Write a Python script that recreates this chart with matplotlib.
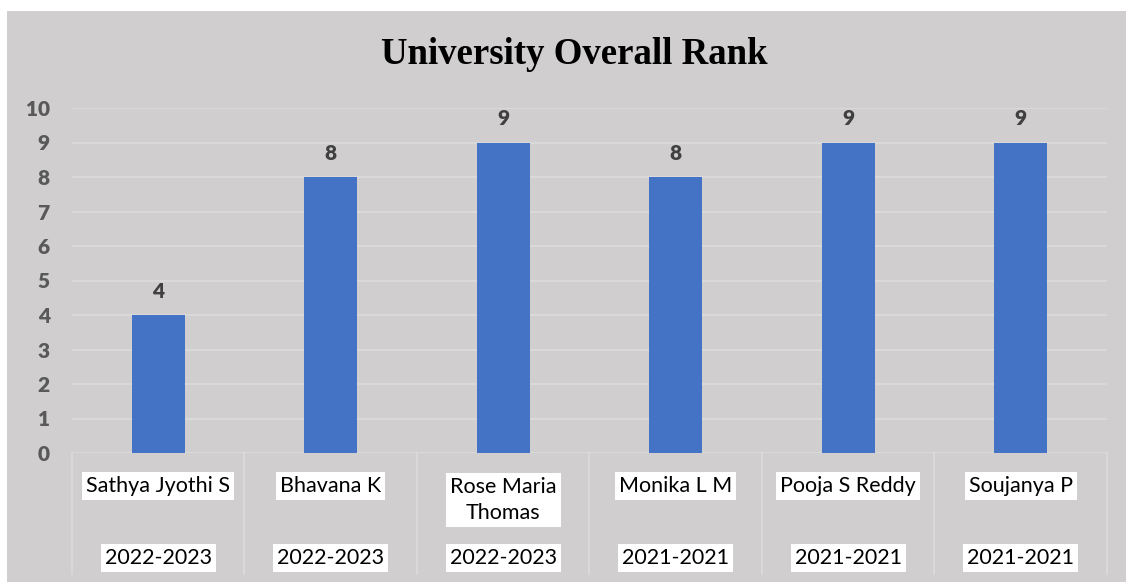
import numpy as np
import matplotlib
matplotlib.use("Agg")
import matplotlib.pyplot as plt
from matplotlib.patches import Rectangle

names=["Sathya Jyothi S","Bhavana K","Rose Maria\nThomas","Monika L M","Pooja S Reddy","Soujanya P"]
years=["2022-2023","2022-2023","2022-2023","2021-2021","2021-2021","2021-2021"]
ranks=[4,8,9,8,9,9]

W,H=1126,582
fig=plt.figure(figsize=(W/100,H/100),dpi=100)
fig.patch.set_facecolor("white")
fig.patches.append(Rectangle((7/W,0),1-7/W,1-11/H,transform=fig.transFigure,
                             facecolor="#D0CECE",edgecolor="none",zorder=-5))

ax=fig.add_axes([72/W,(H-453)/H,(1107-72)/W,345/H])
ax.set_facecolor("none")
x=np.arange(len(ranks))
bars=ax.bar(x,ranks,width=0.31,color="#4472C4",zorder=3)
ax.set_xlim(-0.5,len(ranks)-0.5)
ax.set_ylim(0,10)
ax.set_yticks(range(0,11))
for s in ax.spines.values():
    s.set_visible(False)
ax.grid(axis="y",color="#DCDCDC",linewidth=1.2,zorder=1)
ax.set_axisbelow(True)
ax.set_xticks([])
ax.tick_params(axis="y",length=0,pad=16)
for lab in ax.get_yticklabels():
    lab.set_fontfamily("Lato")
    lab.set_fontweight("heavy")
    lab.set_fontsize(15)
    lab.set_color("#595959")

for b,v in zip(bars,ranks):
    ax.annotate(str(v),(b.get_x()+b.get_width()/2,v),xytext=(0,17),textcoords="offset points",
                ha="center",va="center",fontsize=15,fontweight="heavy",color="#404040",family="Lato")

# category axis with two levels
tr=ax.get_xaxis_transform()
for i in range(len(ranks)+1):
    ax.plot([i-0.5,i-0.5],[0,-0.351],transform=tr,color="#DCDCDC",lw=1.2,clip_on=False)
for i,(n,y) in enumerate(zip(names,years)):
    yy=-0.095 if "\n" not in n else -0.137
    ax.text(i,yy,n,transform=tr,ha="center",va="center",fontsize=15.5,family="Lato",
            color="black",linespacing=1.35,bbox=dict(facecolor="white",edgecolor="none",pad=3))
    ax.text(i,-0.304,y,transform=tr,ha="center",va="center",fontsize=15.5,family="Lato",
            color="black",bbox=dict(facecolor="white",edgecolor="none",pad=3))

fig.text(574/W,1-54/H,"University Overall Rank",ha="center",va="center",
         fontsize=26.6,fontweight="bold",family="Liberation Serif")

fig.savefig("out.png",dpi=100)
